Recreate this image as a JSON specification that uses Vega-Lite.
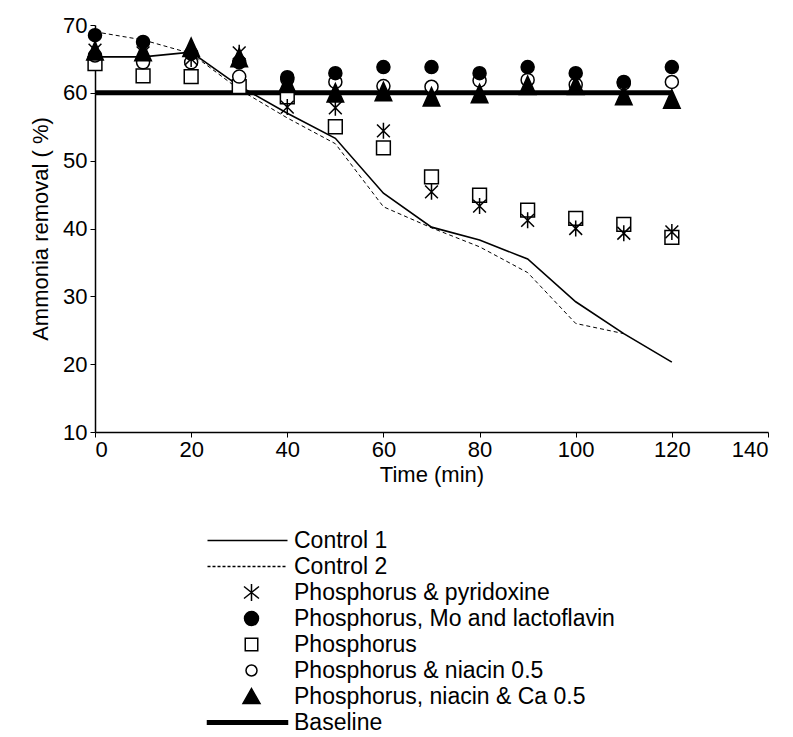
{
  "$schema": "https://vega.github.io/schema/vega-lite/v6.json",
  "width": 673,
  "height": 407,
  "autosize": "none",
  "padding": {"left": 95, "top": 25, "right": 25, "bottom": 305},
  "background": "white",
  "config": {
    "view": {"stroke": null},
    "font": "Liberation Sans",
    "axis": {
      "grid": false,
      "domainColor": "black",
      "domainWidth": 1.5,
      "tickColor": "black",
      "tickSize": 5,
      "tickWidth": 1,
      "labelColor": "black",
      "labelFont": "Liberation Sans",
      "labelFontSize": 22,
      "titleColor": "black",
      "titleFont": "Liberation Sans",
      "titleFontSize": 22,
      "titleFontWeight": "normal"
    }
  },
  "datasets": {
    "rows": [
      {"series": "Control 1", "time": 0, "value": 65.3},
      {"series": "Control 1", "time": 10, "value": 65.3},
      {"series": "Control 1", "time": 20, "value": 66},
      {"series": "Control 1", "time": 30, "value": 61},
      {"series": "Control 1", "time": 40, "value": 57},
      {"series": "Control 1", "time": 50, "value": 53.3},
      {"series": "Control 1", "time": 60, "value": 45.2},
      {"series": "Control 1", "time": 70, "value": 40.2},
      {"series": "Control 1", "time": 80, "value": 38.3},
      {"series": "Control 1", "time": 90, "value": 35.5},
      {"series": "Control 1", "time": 100, "value": 29.2},
      {"series": "Control 1", "time": 110, "value": 24.5},
      {"series": "Control 1", "time": 120, "value": 20.3},
      {"series": "Control 2", "time": 0, "value": 69},
      {"series": "Control 2", "time": 10, "value": 67.8},
      {"series": "Control 2", "time": 20, "value": 65.8},
      {"series": "Control 2", "time": 30, "value": 60.5},
      {"series": "Control 2", "time": 40, "value": 56.3},
      {"series": "Control 2", "time": 50, "value": 52.5},
      {"series": "Control 2", "time": 60, "value": 43.2},
      {"series": "Control 2", "time": 70, "value": 40.1},
      {"series": "Control 2", "time": 80, "value": 37.3},
      {"series": "Control 2", "time": 90, "value": 33.5},
      {"series": "Control 2", "time": 100, "value": 26},
      {"series": "Control 2", "time": 110, "value": 24.5},
      {"series": "Baseline", "time": 0, "value": 60},
      {"series": "Baseline", "time": 120, "value": 60},
      {"series": "Phosphorus", "time": 0, "value": 64.3},
      {"series": "Phosphorus", "time": 10, "value": 62.5},
      {"series": "Phosphorus", "time": 20, "value": 62.4},
      {"series": "Phosphorus", "time": 30, "value": 60.9},
      {"series": "Phosphorus", "time": 40, "value": 59.4},
      {"series": "Phosphorus", "time": 50, "value": 55},
      {"series": "Phosphorus", "time": 60, "value": 51.9},
      {"series": "Phosphorus", "time": 70, "value": 47.6},
      {"series": "Phosphorus", "time": 80, "value": 44.9},
      {"series": "Phosphorus", "time": 90, "value": 42.7},
      {"series": "Phosphorus", "time": 100, "value": 41.5},
      {"series": "Phosphorus", "time": 110, "value": 40.6},
      {"series": "Phosphorus", "time": 120, "value": 38.7},
      {"series": "Phosphorus & niacin 0.5", "time": 0, "value": 65.5},
      {"series": "Phosphorus & niacin 0.5", "time": 10, "value": 64.5},
      {"series": "Phosphorus & niacin 0.5", "time": 20, "value": 64.5},
      {"series": "Phosphorus & niacin 0.5", "time": 30, "value": 62.4},
      {"series": "Phosphorus & niacin 0.5", "time": 40, "value": 62},
      {"series": "Phosphorus & niacin 0.5", "time": 50, "value": 61.6},
      {"series": "Phosphorus & niacin 0.5", "time": 60, "value": 61},
      {"series": "Phosphorus & niacin 0.5", "time": 70, "value": 60.9},
      {"series": "Phosphorus & niacin 0.5", "time": 80, "value": 61.8},
      {"series": "Phosphorus & niacin 0.5", "time": 90, "value": 61.9},
      {"series": "Phosphorus & niacin 0.5", "time": 100, "value": 61.2},
      {"series": "Phosphorus & niacin 0.5", "time": 110, "value": 61.4},
      {"series": "Phosphorus & niacin 0.5", "time": 120, "value": 61.6},
      {"series": "Phosphorus, niacin & Ca 0.5", "time": 0, "value": 66},
      {"series": "Phosphorus, niacin & Ca 0.5", "time": 10, "value": 65.9},
      {"series": "Phosphorus, niacin & Ca 0.5", "time": 20, "value": 66.5},
      {"series": "Phosphorus, niacin & Ca 0.5", "time": 30, "value": 65},
      {"series": "Phosphorus, niacin & Ca 0.5", "time": 40, "value": 61.2},
      {"series": "Phosphorus, niacin & Ca 0.5", "time": 50, "value": 59.8},
      {"series": "Phosphorus, niacin & Ca 0.5", "time": 60, "value": 60},
      {"series": "Phosphorus, niacin & Ca 0.5", "time": 70, "value": 59.2},
      {"series": "Phosphorus, niacin & Ca 0.5", "time": 80, "value": 59.7},
      {"series": "Phosphorus, niacin & Ca 0.5", "time": 90, "value": 60.9},
      {"series": "Phosphorus, niacin & Ca 0.5", "time": 100, "value": 60.9},
      {"series": "Phosphorus, niacin & Ca 0.5", "time": 110, "value": 59.4},
      {"series": "Phosphorus, niacin & Ca 0.5", "time": 120, "value": 58.9},
      {"series": "Phosphorus, Mo and lactoflavin", "time": 0, "value": 68.5},
      {"series": "Phosphorus, Mo and lactoflavin", "time": 10, "value": 67.5},
      {"series": "Phosphorus, Mo and lactoflavin", "time": 20, "value": 65.8},
      {"series": "Phosphorus, Mo and lactoflavin", "time": 30, "value": 64.5},
      {"series": "Phosphorus, Mo and lactoflavin", "time": 40, "value": 62.3},
      {"series": "Phosphorus, Mo and lactoflavin", "time": 50, "value": 62.9},
      {"series": "Phosphorus, Mo and lactoflavin", "time": 60, "value": 63.8},
      {"series": "Phosphorus, Mo and lactoflavin", "time": 70, "value": 63.8},
      {"series": "Phosphorus, Mo and lactoflavin", "time": 80, "value": 62.9},
      {"series": "Phosphorus, Mo and lactoflavin", "time": 90, "value": 63.8},
      {"series": "Phosphorus, Mo and lactoflavin", "time": 100, "value": 62.9},
      {"series": "Phosphorus, Mo and lactoflavin", "time": 110, "value": 61.6},
      {"series": "Phosphorus, Mo and lactoflavin", "time": 120, "value": 63.8},
      {"series": "Phosphorus & pyridoxine", "time": 0, "value": 66.3},
      {"series": "Phosphorus & pyridoxine", "time": 10, "value": 65.9},
      {"series": "Phosphorus & pyridoxine", "time": 20, "value": 65},
      {"series": "Phosphorus & pyridoxine", "time": 30, "value": 65.9},
      {"series": "Phosphorus & pyridoxine", "time": 40, "value": 57.9},
      {"series": "Phosphorus & pyridoxine", "time": 50, "value": 57.8},
      {"series": "Phosphorus & pyridoxine", "time": 60, "value": 54.4},
      {"series": "Phosphorus & pyridoxine", "time": 70, "value": 45.4},
      {"series": "Phosphorus & pyridoxine", "time": 80, "value": 43.3},
      {"series": "Phosphorus & pyridoxine", "time": 90, "value": 41.2},
      {"series": "Phosphorus & pyridoxine", "time": 100, "value": 40},
      {"series": "Phosphorus & pyridoxine", "time": 110, "value": 39.3},
      {"series": "Phosphorus & pyridoxine", "time": 120, "value": 39.5}
    ]
  },
  "data": {"name": "rows"},
  "encoding": {
    "x": {
      "field": "time",
      "type": "quantitative",
      "scale": {"domain": [0, 140], "nice": false, "zero": false},
      "axis": {"values": [0, 20, 40, 60, 80, 100, 120, 140], "title": "Time (min)", "labelPadding": 2, "titlePadding": 4}
    },
    "y": {
      "field": "value",
      "type": "quantitative",
      "scale": {"domain": [10, 70], "nice": false, "zero": false},
      "axis": {"values": [10, 20, 30, 40, 50, 60, 70], "title": "Ammonia removal  ( %)", "labelPadding": 3, "titlePadding": 10}
    }
  },
  "resolve": {"scale": {"shape": "independent", "fill": "independent", "size": "independent"}},
  "layer": [
    {
      "transform": [{"filter": {"field": "series", "equal": "Control 2"}}],
      "mark": {"type": "line", "color": "black", "strokeWidth": 1, "strokeDash": [4, 3]}
    },
    {
      "transform": [{"filter": {"field": "series", "equal": "Control 1"}}],
      "mark": {"type": "line", "color": "black", "strokeWidth": 1.6}
    },
    {
      "transform": [{"filter": {"field": "series", "equal": "Baseline"}}],
      "mark": {"type": "line", "color": "black", "strokeWidth": 5}
    },
    {
      "transform": [{"filter": {"field": "series", "oneOf": ["Phosphorus", "Phosphorus & niacin 0.5", "Phosphorus, niacin & Ca 0.5", "Phosphorus, Mo and lactoflavin", "Phosphorus & pyridoxine"]}}],
      "mark": {"type": "point", "filled": true, "stroke": "black", "strokeWidth": 1.5, "opacity": 1},
      "encoding": {
        "shape": {
          "field": "series",
          "type": "nominal",
          "legend": null,
          "scale": {
            "domain": ["Phosphorus & pyridoxine", "Phosphorus, Mo and lactoflavin", "Phosphorus", "Phosphorus & niacin 0.5", "Phosphorus, niacin & Ca 0.5"],
            "range": ["M0,-1V1M-0.8,-0.8L0.8,0.8M-0.8,0.8L0.8,-0.8", "circle", "square", "circle", "M0,-1.15L0.9,0.85L-0.9,0.85Z"]
          }
        },
        "fill": {
          "field": "series",
          "type": "nominal",
          "legend": null,
          "scale": {
            "domain": ["Phosphorus & pyridoxine", "Phosphorus, Mo and lactoflavin", "Phosphorus", "Phosphorus & niacin 0.5", "Phosphorus, niacin & Ca 0.5"],
            "range": ["black", "black", "white", "white", "black"]
          }
        },
        "size": {
          "field": "series",
          "type": "nominal",
          "legend": null,
          "scale": {
            "type": "ordinal",
            "domain": ["Phosphorus & pyridoxine", "Phosphorus, Mo and lactoflavin", "Phosphorus", "Phosphorus & niacin 0.5", "Phosphorus, niacin & Ca 0.5"],
            "range": [256, 170, 190, 170, 340]
          }
        }
      }
    },
    {
      "transform": [{"filter": {"field": "series", "equal": "none"}}],
      "mark": {"type": "point", "filled": true, "stroke": "black", "strokeWidth": 1.5, "opacity": 1},
      "encoding": {
        "shape": {
          "field": "series",
          "type": "nominal",
          "scale": {
            "domain": ["Control 1", "Control 2", "Phosphorus & pyridoxine", "Phosphorus, Mo and lactoflavin", "Phosphorus", "Phosphorus & niacin 0.5", "Phosphorus, niacin & Ca 0.5", "Baseline"],
            "range": [
              "M-15,0H1",
              "M-15,0H-14.4M-14,0H-13.4M-13,0H-12.4M-12,0H-11.4M-11,0H-10.4M-10,0H-9.4M-9,0H-8.4M-8,0H-7.4M-7,0H-6.4M-6,0H-5.4M-5,0H-4.4M-4,0H-3.4M-3,0H-2.4M-2,0H-1.4M-1,0H-0.4M0,0H0.6",
              "M-6.2,-1.7V1.7M-7.7,-1.2L-4.7,1.2M-7.7,1.2L-4.7,-1.2",
              "M-4.8,0A1.4,1.4,0,1,1,-7.6,0A1.4,1.4,0,1,1,-4.8,0Z",
              "M-7.45,-1.25H-4.95V1.25H-7.45Z",
              "M-5.1,0A1.1,1.1,0,1,1,-7.3,0A1.1,1.1,0,1,1,-5.1,0Z",
              "M-6.2,-1.6L-4.5,1.4L-7.9,1.4Z",
              "M-15,-0.35H1V0.35H-15Z"
            ]
          },
          "legend": {
            "orient": "none",
            "legendX": 176,
            "legendY": 504,
            "title": null,
            "padding": 0,
            "rowPadding": 2,
            "labelOffset": 0,
            "labelFont": "Liberation Sans",
            "labelFontSize": 23,
            "labelColor": "black",
            "labelLimit": 0,
            "symbolStrokeColor": "black",
            "symbolStrokeWidth": 1.5,
            "symbolOpacity": 1
          }
        },
        "fill": {
          "field": "series",
          "type": "nominal",
          "scale": {
            "domain": ["Control 1", "Control 2", "Phosphorus & pyridoxine", "Phosphorus, Mo and lactoflavin", "Phosphorus", "Phosphorus & niacin 0.5", "Phosphorus, niacin & Ca 0.5", "Baseline"],
            "range": ["black", "black", "black", "black", "white", "white", "black", "black"]
          }
        },
        "size": {
          "field": "series",
          "type": "nominal",
          "scale": {
            "type": "ordinal",
            "domain": ["Control 1", "Control 2", "Phosphorus & pyridoxine", "Phosphorus, Mo and lactoflavin", "Phosphorus", "Phosphorus & niacin 0.5", "Phosphorus, niacin & Ca 0.5", "Baseline"],
            "range": [100, 100, 100, 100, 100, 100, 100, 100]
          }
        }
      }
    }
  ]
}
